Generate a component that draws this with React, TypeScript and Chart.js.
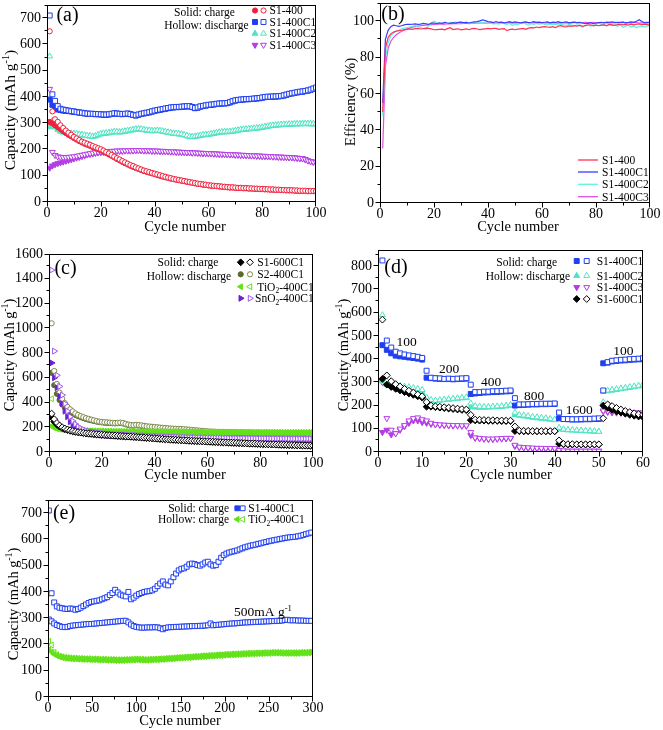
import React, { useEffect, useRef } from 'react';
import { Chart, registerables } from 'chart.js';
import { drawPoint } from 'chart.js/helpers';

Chart.register(...registerables);

const FONT = '"Liberation Serif","Times New Roman",serif';

// ---------------- Panel (a): capacity vs cycle (cycles 1..100) ----------------
const aS1_400_dis = [650, 345, 315, 305, 292, 282, 272, 264, 256, 248,
  242, 236, 230, 226, 222, 218, 213, 209, 205, 201,
  196, 190, 185, 179, 173, 167, 162, 156, 151, 146,
  141, 137, 132, 128, 124, 120, 117, 114, 111, 108,
  105, 102, 99, 96, 93, 91, 88, 86, 84, 82,
  80, 78, 76, 74, 72, 70, 69, 67, 66, 64,
  63, 62, 61, 60, 59, 58, 57, 56, 56, 55,
  54, 54, 53, 53, 52, 52, 51, 51, 50, 50,
  49, 49, 48, 48, 47, 47, 46, 46, 45, 45,
  45, 44, 44, 43, 43, 43, 42, 42, 42, 41];
const aS1_400_ch = [305, 300, 292, 285, 278, 270, 263, 256, 250, 244,
  238, 232, 227, 222, 218, 214, 209, 205, 201, 197,
  192, 187, 181, 176, 170, 164, 159, 153, 148, 143,
  138, 134, 130, 126, 122, 118, 115, 112, 109, 106,
  103, 100, 97, 94, 92, 89, 87, 85, 83, 81,
  79, 77, 75, 73, 71, 69, 68, 66, 65, 63,
  62, 61, 60, 59, 58, 57, 56, 55, 55, 54,
  53, 53, 52, 52, 51, 51, 50, 50, 49, 49,
  48, 48, 47, 47, 46, 46, 45, 45, 44, 44,
  44, 43, 43, 42, 42, 42, 41, 41, 41, 40];
const aC1_dis = [710, 410, 385, 365, 355, 352, 350, 348, 346, 345,
  343, 341, 340, 338, 337, 336, 336, 335, 335, 334,
  333, 333, 334, 336, 338, 337, 336, 335, 336, 337,
  335, 332, 330, 333, 336, 338, 340, 342, 345, 348,
  350, 352, 354, 356, 358, 360, 361, 362, 362, 363,
  364, 365, 365, 362, 358, 360, 364, 366, 368, 370,
  371, 372, 374, 375, 376, 376, 377, 380, 384, 387,
  389, 390, 391, 392, 392, 393, 394, 395, 396, 398,
  400, 401, 401, 402, 402, 403, 404, 406, 409, 412,
  414, 416, 418, 420, 421, 423, 425, 428, 432, 436];
const aC1_ch = [390, 370, 358, 352, 350, 348, 347, 346, 345, 343,
  342, 340, 339, 337, 336, 335, 335, 334, 334, 333,
  332, 332, 333, 335, 337, 336, 335, 334, 335, 336,
  334, 331, 329, 332, 335, 337, 339, 341, 344, 347,
  349, 351, 353, 355, 357, 359, 360, 361, 361, 362,
  363, 364, 364, 361, 357, 359, 363, 365, 367, 369,
  370, 371, 373, 374, 375, 375, 376, 379, 383, 386,
  388, 389, 390, 391, 391, 392, 393, 394, 395, 397,
  399, 400, 400, 401, 401, 402, 403, 405, 408, 411,
  413, 415, 417, 419, 420, 422, 424, 427, 431, 434];
const aC2_dis = [555, 310, 292, 280, 272, 268, 265, 263, 262, 261,
  260, 258, 257, 255, 253, 252, 250, 252, 256, 260,
  262, 263, 264, 266, 268, 268, 267, 268, 270, 272,
  274, 276, 278, 279, 278, 276, 274, 273, 272, 272,
  273, 272, 270, 268, 266, 264, 262, 261, 260, 259,
  256, 253, 250, 249, 250, 252, 254, 256, 257, 258,
  260, 262, 264, 266, 267, 268, 268, 269, 270, 272,
  274, 276, 277, 278, 279, 280, 281, 282, 283, 285,
  287, 289, 291, 292, 293, 294, 295, 296, 296, 297,
  297, 298, 298, 298, 299, 299, 299, 298, 298, 298];
const aC2_ch = [285, 300, 285, 275, 268, 265, 263, 261, 260, 259,
  258, 256, 255, 253, 251, 250, 248, 250, 254, 258,
  260, 261, 262, 264, 266, 266, 265, 266, 268, 270,
  272, 274, 276, 277, 276, 274, 272, 271, 270, 270,
  271, 270, 268, 266, 264, 262, 260, 259, 258, 257,
  254, 251, 248, 247, 248, 250, 252, 254, 255, 256,
  258, 260, 262, 264, 265, 266, 266, 267, 268, 270,
  272, 274, 275, 276, 277, 278, 279, 280, 281, 283,
  285, 287, 289, 290, 291, 292, 293, 294, 294, 295,
  295, 296, 296, 296, 297, 297, 297, 296, 296, 296];
const aC3_dis = [430, 190, 178, 173, 171, 170, 170, 171, 172, 173,
  175, 177, 179, 181, 183, 185, 187, 189, 190, 191,
  192, 193, 193, 194, 194, 195, 195, 195, 196, 196,
  196, 196, 197, 197, 197, 196, 196, 196, 195, 195,
  195, 194, 194, 193, 193, 192, 192, 191, 191, 190,
  190, 189, 189, 188, 188, 187, 187, 186, 186, 185,
  185, 184, 184, 183, 183, 182, 182, 181, 181, 180,
  180, 179, 179, 178, 178, 177, 177, 176, 176, 175,
  175, 174, 174, 173, 173, 172, 172, 171, 171, 170,
  170, 169, 168, 167, 166, 163, 158, 155, 153, 152];
const aC3_ch = [130, 138, 143, 147, 150, 153, 156, 159, 162, 165,
  168, 171, 174, 177, 180, 182, 184, 186, 188, 189,
  190, 191, 192, 193, 193, 194, 194, 194, 195, 195,
  195, 195, 196, 196, 196, 195, 195, 195, 194, 194,
  194, 193, 193, 192, 192, 191, 191, 190, 190, 189,
  189, 188, 188, 187, 187, 186, 186, 185, 185, 184,
  184, 183, 183, 182, 182, 181, 181, 180, 180, 179,
  179, 178, 178, 177, 177, 176, 176, 175, 175, 174,
  174, 173, 173, 172, 172, 171, 171, 170, 170, 169,
  169, 168, 167, 166, 165, 162, 157, 154, 152, 151];

// ---------------- Panel (b): coulombic efficiency (cycles 1..100) ----------------
const bS1_400 = [50, 85, 91, 93, 94, 94.5, 94.8, 95, 95.2, 95.5,
  95.8, 95.5, 95.9, 96, 95.7, 95.9, 96.2, 96, 95.8, 95.3,
  95.4, 95.5, 95.6, 95.2, 95.9, 96.4, 95.4, 95.6, 95.8, 95.2,
  95.5, 95.8, 95.3, 95.9, 96, 95.7, 95.4, 95.6, 95.8, 96,
  95.8, 96.1, 96, 95.5, 95.8, 95.9, 94.8, 95.4, 95.6, 95.3,
  95.6, 95.8, 96, 95.5, 96.2, 96.4, 96.3, 96.8, 96.5, 96.9,
  97, 96.8, 96.6, 97, 96.5, 97.2, 97.5, 97, 96.8, 97.4,
  97.2, 97.5, 97.3, 97.8, 97.2, 97.6, 97.9, 98, 97.4, 97.8,
  97.5, 97.8, 98, 97.6, 98.2, 98, 97.7, 98.1, 98.3, 98,
  98.2, 97.9, 98.4, 98, 98.3, 98.5, 98.1, 98.4, 98.2, 97.5];
const bC1 = [55, 90, 95, 97, 97.8, 97.5, 97.2, 97.5, 98, 98.3,
  98.2, 98.3, 98.5, 98.2, 98.4, 98.8, 98.5, 98.2, 98.9, 99,
  98.6, 99.1, 98.8, 99.3, 99, 98.8, 99.2, 98.9, 99.3, 99.5,
  99.2, 99.3, 99, 99.4, 99.6, 99.8, 100.2, 100.7, 100.3, 99.8,
  99.6, 99.2, 99.8, 99.3, 99.5, 99.1, 99.4, 99.7, 99.2, 99.6,
  99.4, 99.1, 99.3, 99.6, 99.2, 99.4, 99.7, 99.3, 99.5, 99.2,
  99.4, 99.6, 99.1, 99.5, 99.3, 99.7, 99.2, 99.4, 99.6, 99.1,
  99.3, 99.5, 99.2, 99.4, 99, 98.6, 98.8, 99.2, 98.6, 99,
  99.2, 99.4, 99.1, 99.5, 99.3, 99.6, 99.2, 99.4, 99.3, 99.5,
  99.1, 99.3, 99.6, 99.4, 100, 100.8, 99.8, 99.2, 99.4, 99.3];
const bC2 = [48, 80, 88, 92, 93.5, 94.5, 95, 95.8, 96.2, 96.5,
  96.8, 97.2, 97.5, 97, 96.5, 96, 95.5, 97.5, 99, 100,
  99.2, 98.6, 98.8, 99.2, 98.7, 99.3, 99, 99.6, 98.8, 99.2,
  98.9, 99.4, 98.7, 99.1, 99.5, 98.8, 99.2, 99, 99.4, 98.6,
  99, 98.5, 98.8, 98.4, 99, 98.6, 98.2, 98.8, 97.6, 98.4,
  98.2, 98.8, 99.6, 98.4, 97.8, 98.6, 98.3, 98.8, 98.4, 98.7,
  98.2, 97.9, 98.5, 98.1, 98.4, 97.8, 98.3, 98, 97.6, 98.2,
  97.8, 97.5, 98, 97.4, 96.8, 97.6, 97.9, 97.3, 97.8, 98,
  97.5, 98.2, 97.8, 97.4, 98.1, 97.6, 98, 97.2, 97.9, 96.5,
  97.2, 97.6, 96.8, 97.4, 96.5, 97, 97.3, 96.8, 97.4, 97.8];
const bC3 = [30, 75, 85, 89, 91, 92.5, 93.5, 94.5, 95.2, 95.8,
  96.3, 96.7, 97, 97.3, 97.5, 97.7, 97.8, 98, 98.1, 98.2,
  98.3, 98.4, 98.5, 98.4, 98.6, 98.5, 98.7, 98.6, 98.8, 98.7,
  98.8, 98.9, 98.7, 98.9, 99, 98.8, 99, 99.1, 98.9, 99,
  99.1, 98.9, 99, 99.2, 99, 98.9, 99.1, 99.2, 99, 99.1,
  99.2, 99, 99.1, 99.3, 99.1, 99, 99.2, 99.3, 99.1, 99.2,
  99, 99.1, 99.2, 99, 99.1, 98.9, 99.2, 99.1, 99, 99.2,
  99.1, 99.3, 99, 99.2, 99.1, 99.3, 99.2, 99, 99.3, 99.1,
  99.2, 99, 99.3, 99.1, 99.2, 99, 99.3, 99.1, 99.2, 99.3,
  99, 99.2, 99.1, 99.3, 99.2, 99, 99.1, 99.2, 99, 99.2];

// ---------------- Panel (c): other samples (cycles 1..100) ----------------
const cS1_600_dis = [310, 265, 235, 215, 200, 190, 182, 175, 170, 165,
  161, 158, 155, 152, 150, 148, 146, 144, 142, 140,
  139, 137, 136, 134, 133, 131, 130, 129, 127, 126,
  125, 123, 122, 120, 119, 117, 116, 114, 112, 110,
  109, 107, 106, 104, 103, 101, 100, 99, 97, 96,
  95, 94, 92, 91, 90, 89, 88, 87, 86, 85,
  84, 83, 82, 81, 80, 79, 78, 77, 76, 75,
  74, 73, 72, 71, 70, 69, 69, 68, 67, 66,
  65, 64, 63, 63, 62, 61, 60, 59, 59, 58,
  57, 57, 56, 55, 55, 54, 53, 53, 52, 51];
const cS1_600_ch = [280, 245, 220, 205, 193, 184, 177, 171, 166, 162,
  159, 156, 153, 150, 148, 146, 144, 142, 140, 138,
  137, 135, 134, 132, 131, 129, 128, 127, 125, 124,
  123, 121, 120, 118, 117, 115, 114, 112, 110, 108,
  107, 105, 104, 102, 101, 99, 98, 97, 95, 94,
  93, 92, 90, 89, 88, 87, 86, 85, 84, 83,
  82, 81, 80, 79, 78, 77, 76, 75, 74, 73,
  72, 71, 70, 69, 68, 67, 67, 66, 65, 64,
  63, 62, 61, 61, 60, 59, 58, 57, 57, 56,
  55, 55, 54, 53, 53, 52, 51, 51, 50, 49];
const cS2_dis = [1040, 655, 550, 480, 430, 395, 365, 345, 328, 312,
  300, 290, 282, 274, 268, 262, 256, 250, 246, 243,
  241, 240, 238, 236, 235, 236, 238, 235, 228, 222,
  218, 217, 220, 218, 215, 212, 208, 206, 204, 202,
  200, 198, 196, 194, 192, 190, 189, 188, 187, 186,
  185, 183, 181, 179, 177, 175, 173, 171, 169, 167,
  166, 165, 164, 163, 162, 162, 161, 160, 160, 159,
  159, 158, 158, 157, 157, 157, 156, 156, 156, 155,
  155, 155, 155, 154, 154, 154, 154, 153, 153, 153,
  153, 153, 152, 152, 152, 152, 152, 151, 151, 151];
const cS2_ch = [640, 540, 470, 420, 385, 360, 340, 325, 312, 300,
  290, 282, 274, 267, 261, 256, 251, 246, 242, 239,
  237, 236, 234, 232, 231, 232, 234, 231, 224, 218,
  214, 213, 216, 214, 211, 208, 204, 202, 200, 198,
  196, 194, 192, 190, 188, 186, 185, 184, 183, 182,
  181, 179, 177, 175, 173, 171, 169, 167, 165, 163,
  162, 161, 160, 159, 158, 158, 157, 156, 156, 155,
  155, 154, 154, 153, 153, 153, 152, 152, 152, 151,
  151, 151, 151, 150, 150, 150, 150, 149, 149, 149,
  149, 149, 148, 148, 148, 148, 148, 147, 147, 147];
const cTiO2_dis = [430, 215, 200, 193, 188, 184, 181, 179, 177, 176,
  175, 174, 173, 172, 171, 171, 170, 170, 169, 169,
  168, 168, 168, 167, 167, 167, 167, 166, 166, 166,
  166, 166, 165, 165, 165, 165, 165, 164, 164, 164,
  164, 164, 164, 163, 163, 163, 163, 163, 163, 162,
  162, 162, 162, 162, 162, 162, 161, 161, 161, 161,
  161, 161, 161, 161, 160, 160, 160, 160, 160, 160,
  160, 160, 160, 160, 160, 159, 159, 159, 159, 159,
  159, 159, 159, 159, 159, 159, 159, 158, 158, 158,
  158, 158, 158, 158, 158, 158, 158, 158, 158, 158];
const cTiO2_ch = [210, 195, 188, 184, 181, 179, 177, 175, 174, 173,
  172, 171, 170, 169, 168, 168, 167, 167, 166, 166,
  165, 165, 165, 164, 164, 164, 164, 163, 163, 163,
  163, 163, 162, 162, 162, 162, 162, 161, 161, 161,
  161, 161, 161, 160, 160, 160, 160, 160, 160, 159,
  159, 159, 159, 159, 159, 159, 158, 158, 158, 158,
  158, 158, 158, 158, 157, 157, 157, 157, 157, 157,
  157, 157, 157, 157, 157, 156, 156, 156, 156, 156,
  156, 156, 156, 156, 156, 156, 156, 155, 155, 155,
  155, 155, 155, 155, 155, 155, 155, 155, 155, 155];
const cSnO2_dis = [1470, 815, 620, 530, 460, 390, 330, 285, 250, 225,
  205, 192, 182, 174, 168, 163, 159, 156, 153, 150,
  148, 146, 145, 143, 142, 141, 140, 139, 138, 137,
  136, 135, 134, 133, 132, 131, 130, 129, 128, 127,
  126, 125, 125, 124, 123, 122, 122, 121, 120, 120,
  119, 118, 118, 117, 117, 116, 116, 115, 115, 114,
  114, 114, 113, 113, 113, 112, 112, 112, 111, 111,
  111, 111, 110, 110, 110, 110, 110, 109, 109, 109,
  109, 109, 109, 108, 108, 108, 108, 108, 108, 108,
  107, 107, 107, 107, 107, 107, 107, 107, 107, 107];
const cSnO2_ch = [720, 600, 520, 450, 390, 330, 285, 245, 215, 195,
  180, 170, 163, 157, 152, 148, 145, 142, 140, 138,
  136, 134, 133, 131, 130, 129, 128, 127, 126, 125,
  124, 123, 122, 121, 120, 119, 118, 117, 116, 115,
  114, 113, 113, 112, 111, 110, 110, 109, 108, 108,
  107, 106, 106, 105, 105, 104, 104, 103, 103, 102,
  102, 102, 101, 101, 101, 100, 100, 100, 99, 99,
  99, 99, 98, 98, 98, 98, 98, 97, 97, 97,
  97, 97, 97, 96, 96, 96, 96, 96, 96, 96,
  95, 95, 95, 95, 95, 95, 95, 95, 95, 95];

// ---------------- Panel (d): rate capability (cycles 1..60) ----------------
const dC1_dis = [825, 480, 450, 432, 425, 420, 416, 413, 410, 405,
  350, 320, 318, 317, 315, 316, 315, 316, 317, 318,
  290, 258, 258, 260, 260, 262, 262, 263, 264, 265,
  232, 205, 205, 206, 207, 207, 208, 208, 208, 209,
  170, 142, 142, 141, 141, 142, 143, 143, 144, 145,
  265, 387, 393, 395, 397, 398, 400, 401, 402, 404];
const dC1_ch = [460, 440, 425, 415, 412, 410, 407, 405, 402, 398,
  320, 318, 316, 315, 314, 314, 313, 314, 315, 316,
  250, 252, 254, 256, 257, 258, 259, 260, 261, 262,
  200, 202, 203, 204, 205, 205, 206, 206, 207, 207,
  145, 142, 141, 140, 140, 140, 141, 141, 142, 142,
  382, 385, 390, 392, 394, 395, 397, 398, 399, 400];
const dC2_dis = [590, 305, 295, 290, 285, 282, 280, 276, 272, 268,
  235, 225, 222, 224, 226, 228, 230, 232, 234, 236,
  210, 198, 196, 195, 195, 196, 197, 198, 200, 203,
  170, 160, 158, 155, 152, 150, 148, 146, 143, 140,
  105, 98, 96, 95, 94, 93, 92, 91, 90, 88,
  215, 265, 268, 271, 274, 277, 280, 283, 286, 290];
const dC2_ch = [305, 290, 285, 280, 275, 272, 268, 264, 260, 256,
  215, 218, 220, 222, 224, 226, 228, 230, 232, 233,
  195, 192, 191, 191, 192, 193, 194, 195, 197, 200,
  160, 157, 154, 151, 148, 146, 144, 142, 140, 138,
  100, 96, 94, 93, 92, 91, 90, 89, 88, 87,
  260, 262, 265, 268, 271, 274, 277, 280, 283, 286];
const dC3_dis = [300, 145, 95, 80, 100, 115, 135, 145, 148, 140,
  135, 125, 120, 118, 117, 116, 115, 115, 114, 114,
  85, 62, 60, 58, 57, 57, 58, 59, 60, 60,
  30, 22, 20, 19, 18, 17, 17, 16, 16, 16,
  8, 6, 5, 5, 5, 5, 5, 5, 5, 5,
  178, 176, 175, 174, 173, 172, 171, 170, 170, 170];
const dC3_ch = [85, 95, 75, 80, 95, 110, 125, 135, 135, 128,
  125, 120, 118, 116, 115, 114, 113, 113, 112, 112,
  72, 60, 58, 56, 55, 55, 56, 57, 58, 58,
  25, 20, 18, 17, 16, 15, 15, 14, 14, 14,
  5, 4, 4, 4, 4, 4, 4, 4, 4, 4,
  175, 172, 170, 169, 168, 167, 166, 165, 165, 165];
const dS1_600_dis = [570, 330, 305, 292, 282, 272, 264, 256, 248, 240,
  215, 200, 197, 195, 193, 191, 189, 187, 185, 183,
  160, 140, 139, 138, 137, 137, 136, 136, 135, 135,
  110, 92, 91, 91, 90, 90, 90, 90, 90, 90,
  50, 35, 34, 34, 33, 33, 33, 33, 33, 33,
  145, 205, 198, 190, 183, 177, 172, 167, 163, 160];
const dS1_600_ch = [315, 290, 280, 272, 265, 258, 252, 246, 240, 234,
  195, 195, 193, 191, 189, 187, 185, 183, 181, 180,
  137, 136, 135, 135, 134, 134, 134, 133, 133, 133,
  90, 90, 89, 89, 89, 89, 89, 89, 89, 89,
  35, 33, 32, 32, 32, 32, 32, 32, 32, 32,
  200, 190, 182, 175, 170, 165, 160, 156, 153, 150];
const dRates = ['100', '200', '400', '800', '1600', '100'];

// ---------------- Panel (e): long cycling at 500 mA g-1 ----------------
const eCycles = [1, 4, 7, 10, 13, 16, 19, 22, 25, 28, 31, 34, 37, 40, 43, 46, 49, 52, 55, 58,
  61, 64, 67, 70, 73, 76, 79, 82, 85, 88, 91, 94, 97, 100, 103, 106, 109, 112, 115, 118,
  121, 124, 127, 130, 133, 136, 139, 142, 145, 148, 151, 154, 157, 160, 163, 166, 169, 172, 175, 178,
  181, 184, 187, 190, 193, 196, 199, 202, 205, 208, 211, 214, 217, 220, 223, 226, 229, 232, 235, 238,
  241, 244, 247, 250, 253, 256, 259, 262, 265, 268, 271, 274, 277, 280, 283, 286, 289, 292, 295, 298];
const eC1_upper = [710, 395, 360, 345, 340, 338, 336, 335, 337, 336,
  332, 335, 340, 346, 352, 358, 362, 364, 366, 368,
  372, 376, 380, 388, 396, 408, 398, 390, 386, 383,
  400, 372, 378, 386, 392, 396, 400, 402, 403, 406,
  412, 422, 432, 440, 428, 425, 440, 456, 470, 482,
  488, 490, 496, 505, 508, 506, 502, 500, 505, 512,
  515, 505, 500, 502, 515, 530, 540, 546, 550, 553,
  555, 558, 562, 566, 570, 573, 576, 578, 580, 583,
  585, 588, 590, 593, 595, 597, 599, 601, 603, 605,
  607, 608, 609, 610, 612, 614, 617, 620, 623, 626];
const eC1_lower = [295, 288, 280, 274, 270, 267, 266, 267, 270, 272,
  273, 274, 275, 276, 277, 278, 278, 279, 280, 281,
  282, 283, 284, 285, 286, 287, 288, 289, 290, 290,
  284, 276, 270, 267, 265, 264, 264, 265, 265, 265,
  266, 265, 262, 258, 263, 265, 266, 266, 267, 267,
  268, 268, 269, 269, 270, 270, 270, 271, 271, 272,
  273, 280, 273, 274, 275, 276, 277, 278, 279, 280,
  280, 281, 282, 283, 284, 284, 285, 285, 286, 286,
  287, 287, 288, 288, 289, 289, 290, 290, 291, 293,
  294, 292, 292, 292, 291, 291, 291, 290, 290, 290];
const eTiO2_ch = [180, 172, 163, 157, 153, 150, 148, 147, 146, 145,
  145, 144, 144, 143, 143, 143, 142, 142, 142, 141,
  141, 141, 140, 140, 140, 139, 139, 139, 139, 140,
  140, 141, 141, 142, 141, 141, 140, 140, 141, 141,
  142, 142, 143, 143, 144, 145, 145, 146, 147, 148,
  148, 149, 150, 150, 151, 152, 152, 153, 154, 154,
  155, 156, 156, 157, 158, 158, 159, 160, 160, 161,
  161, 162, 162, 163, 163, 164, 164, 164, 165, 165,
  165, 166, 166, 166, 167, 167, 167, 167, 166, 166,
  166, 166, 166, 166, 166, 167, 167, 167, 168, 169];
const eTiO2_dis = [212, 198, 170, 161, 156, 153, 151, 150, 149, 148,
  148, 147, 147, 146, 146, 146, 145, 145, 145, 144,
  144, 144, 143, 143, 143, 142, 142, 142, 142, 143,
  143, 144, 144, 145, 144, 144, 143, 143, 144, 144,
  145, 145, 146, 146, 147, 148, 148, 149, 150, 151,
  151, 152, 153, 153, 154, 155, 155, 156, 157, 157,
  158, 159, 159, 160, 161, 161, 162, 163, 163, 164,
  164, 165, 165, 166, 166, 167, 167, 167, 168, 168,
  168, 169, 169, 169, 170, 170, 170, 170, 169, 169,
  169, 169, 169, 169, 169, 170, 170, 170, 171, 172];

// ---------------- axis ticks ----------------
const x100Ticks = [0, 20, 40, 60, 80, 100];
const aYTicks = [0, 100, 200, 300, 400, 500, 600, 700];
const bYTicks = [0, 20, 40, 60, 80, 100];
const cYTicks = [0, 200, 400, 600, 800, 1000, 1200, 1400, 1600];
const dXTicks = [0, 10, 20, 30, 40, 50, 60];
const dYTicks = [0, 100, 200, 300, 400, 500, 600, 700, 800];
const eXTicks = [0, 50, 100, 150, 200, 250, 300];
const eYTicks = [0, 100, 200, 300, 400, 500, 600, 700];

// ---------------- styles ----------------
const RED = '#f0203c';
const BLUE = '#1f3ff0';
const CYAN = '#4fe4c2';
const VIOLET = '#b43ce6';
const L_RED = '#ff3355';
const L_BLUE = '#3c3cff';
const L_CYAN = '#5ef2dc';
const L_PINK = '#e04ee6';
const BLACK = '#000000';
const OLIVE_S = '#5a6b2c';
const OLIVE_H = '#7f8c4a';
const LIME = '#63e21a';
const PURPLE_S = '#6a22d0';
const PURPLE_H = '#9d58ef';
const HOLLOW_FILL = '#ffffff';

type Mk = { style: string; rot: number; r: number };
const MK: Record<string, Mk> = {
  circle: { style: 'circle', rot: 0, r: 2.6 },
  square: { style: 'rect', rot: 0, r: 3.5 },
  up: { style: 'triangle', rot: 0, r: 3.4 },
  down: { style: 'triangle', rot: 180, r: 3.4 },
  left: { style: 'triangle', rot: -90, r: 3.4 },
  right: { style: 'triangle', rot: 90, r: 3.4 },
  diamond: { style: 'rectRot', rot: 0, r: 3.4 },
};

function pts(vals: number[], xs?: number[]) {
  return vals.map((v, i) => ({ x: xs ? xs[i] : i + 1, y: v }));
}
function markDs(label: string, vals: number[], color: string, m: Mk, hollow: boolean, xs?: number[]) {
  return {
    label,
    data: pts(vals, xs),
    showLine: false,
    pointStyle: m.style,
    rotation: m.rot,
    pointRadius: m.r,
    pointBorderWidth: 1,
    pointBackgroundColor: hollow ? HOLLOW_FILL : color,
    pointBorderColor: color,
    backgroundColor: color,
    borderColor: color,
  };
}
function lineDs(label: string, vals: number[], color: string) {
  return {
    label,
    data: pts(vals),
    showLine: true,
    borderColor: color,
    backgroundColor: color,
    borderWidth: 1.2,
    pointRadius: 0,
    tension: 0,
  };
}

// ---------------- rich text helpers ----------------
type Seg = { t: string; s: number };
function parseRich(str: string): Seg[] {
  const out: Seg[] = [];
  const re = /([_^])\{([^}]*)\}/g;
  let last = 0;
  let m: RegExpExecArray | null;
  while ((m = re.exec(str))) {
    if (m.index > last) out.push({ t: str.slice(last, m.index), s: 0 });
    out.push({ t: m[2], s: m[1] === '^' ? 1 : -1 });
    last = re.lastIndex;
  }
  if (last < str.length) out.push({ t: str.slice(last), s: 0 });
  return out;
}
function drawRich(ctx: CanvasRenderingContext2D, str: string, x: number, y: number, size: number, align: string) {
  const segs = parseRich(str);
  const small = size * 0.65;
  const widths = segs.map((sg) => {
    ctx.font = `${sg.s ? small : size}px ${FONT}`;
    return ctx.measureText(sg.t).width;
  });
  const total = widths.reduce((a, b) => a + b, 0);
  let cx = align === 'center' ? x - total / 2 : align === 'right' ? x - total : x;
  ctx.textAlign = 'left';
  ctx.textBaseline = 'alphabetic';
  segs.forEach((sg, i) => {
    ctx.font = `${sg.s ? small : size}px ${FONT}`;
    const dy = sg.s === 1 ? -size * 0.4 : sg.s === -1 ? size * 0.22 : 0;
    ctx.fillText(sg.t, cx, y + size * 0.34 + dy);
    cx += widths[i];
  });
}

type Note = { t: string; x: number; y: number; size: number; align?: string; rot?: boolean; color?: string };
type LegMark = { x: number; y: number; m: Mk; color: string; hollow: boolean };
type LegLine = { x1: number; x2: number; y: number; color: string };
type AxisCfg = { min: number; max: number; ticks: number[]; minor: number };
type PanelCfg = {
  id: string;
  box: { left: number; top: number; width: number; height: number };
  area: { l: number; t: number; r: number; b: number };
  x: AxisCfg;
  y: AxisCfg;
  datasets: any[];
  notes: Note[];
  marks: LegMark[];
  lines: LegLine[];
};

function axisOpts(ax: AxisCfg, isX: boolean, size: number) {
  return {
    type: 'linear',
    min: ax.min,
    max: ax.max,
    afterBuildTicks: (s: any) => {
      s.ticks = ax.ticks.map((v) => ({ value: v }));
    },
    afterFit: (s: any) => {
      if (isX) s.height = size;
      else s.width = size;
      s.paddingLeft = 0;
      s.paddingRight = 0;
      s.paddingTop = 0;
      s.paddingBottom = 0;
    },
    grid: { display: false, drawTicks: false },
    border: { display: false },
    ticks: {
      autoSkip: false,
      maxRotation: 0,
      minRotation: 0,
      padding: isX ? 3 : 6,
      color: '#000',
      font: { family: FONT, size: 14 },
      callback: (v: any) => String(v),
    },
    title: { display: false },
  };
}

function makeChart(canvas: HTMLCanvasElement, cfg: PanelCfg) {
  const { box, area } = cfg;
  const ox = box.left;
  const oy = box.top;
  const decor = {
    id: 'decor_' + cfg.id,
    afterDraw(chart: any) {
      const ctx: CanvasRenderingContext2D = chart.ctx;
      const ca = chart.chartArea;
      const xs = chart.scales.x;
      const ys = chart.scales.y;
      ctx.save();
      ctx.strokeStyle = '#000';
      ctx.lineWidth = 1;
      const L = Math.round(ca.left) + 0.5;
      const R = Math.round(ca.right) - 0.5;
      const T = Math.round(ca.top) + 0.5;
      const B = Math.round(ca.bottom) - 0.5;
      ctx.strokeRect(L, T, R - L, B - T);
      for (let i = 0; ; i++) {
        const v = cfg.x.min + i * cfg.x.minor;
        if (v > cfg.x.max + 1e-6) break;
        const p = Math.min(Math.round(xs.getPixelForValue(v)) + 0.5, R);
        const major = cfg.x.ticks.includes(v);
        ctx.beginPath();
        ctx.moveTo(p, B);
        ctx.lineTo(p, B + (major ? 5 : 3));
        ctx.stroke();
      }
      for (let i = 0; ; i++) {
        const v = cfg.y.min + i * cfg.y.minor;
        if (v > cfg.y.max + 1e-6) break;
        const p = Math.max(Math.round(ys.getPixelForValue(v)) - 0.5, T);
        const major = cfg.y.ticks.includes(v);
        ctx.beginPath();
        ctx.moveTo(L, p);
        ctx.lineTo(L - (major ? 5 : 3), p);
        ctx.stroke();
      }
      // legend lines
      for (const ln of cfg.lines) {
        ctx.strokeStyle = ln.color;
        ctx.lineWidth = 1.3;
        ctx.beginPath();
        ctx.moveTo(ln.x1 - ox, ln.y - oy);
        ctx.lineTo(ln.x2 - ox, ln.y - oy);
        ctx.stroke();
      }
      // legend markers
      for (const mk of cfg.marks) {
        ctx.fillStyle = mk.hollow ? HOLLOW_FILL : mk.color;
        ctx.strokeStyle = mk.color;
        ctx.lineWidth = 1;
        drawPoint(ctx, { pointStyle: mk.m.style as any, rotation: mk.m.rot, radius: mk.m.r, borderWidth: 1 } as any, mk.x - ox, mk.y - oy);
      }
      // texts
      for (const n of cfg.notes) {
        ctx.fillStyle = n.color || '#000';
        if (n.rot) {
          ctx.save();
          ctx.translate(n.x - ox, n.y - oy);
          ctx.rotate(-Math.PI / 2);
          drawRich(ctx, n.t, 0, 0, n.size, n.align || 'center');
          ctx.restore();
        } else {
          drawRich(ctx, n.t, n.x - ox, n.y - oy, n.size, n.align || 'left');
        }
      }
      ctx.restore();
    },
  };
  return new Chart(canvas, {
    type: 'scatter',
    data: { datasets: cfg.datasets },
    options: {
      animation: false,
      responsive: false,
      maintainAspectRatio: false,
      devicePixelRatio: 1,
      events: [],
      layout: {
        padding: { left: 0, top: area.t - box.top, right: box.left + box.width - area.r, bottom: 0 },
      },
      plugins: { legend: { display: false }, tooltip: { enabled: false } },
      scales: {
        x: axisOpts(cfg.x, true, box.top + box.height - area.b) as any,
        y: axisOpts(cfg.y, false, area.l - box.left) as any,
      },
    } as any,
    plugins: [decor],
  });
}

// ---------------- legends ----------------
function legendRows(rows: number[], xs: number, xh: number, xt: number, items: { t: string; m: Mk; s: string; h: string; tx?: number }[], size: number) {
  const marks: LegMark[] = [];
  const notes: Note[] = [];
  items.forEach((it, i) => {
    marks.push({ x: xs, y: rows[i], m: it.m, color: it.s, hollow: false });
    marks.push({ x: xh, y: rows[i], m: it.m, color: it.h, hollow: true });
    notes.push({ t: it.t, x: it.tx ?? xt, y: rows[i], size, align: 'left' });
  });
  return { marks, notes };
}

const CAP = 'Capacity (mAh g^{-1})';
const LEG = 11.5;

function panelA(): PanelCfg {
  const lg = legendRows([10.5, 22, 33.5, 45], 255, 263.5, 269.5, [
    { t: 'S1-400', m: MK.circle, s: RED, h: RED },
    { t: 'S1-400C1', m: MK.square, s: BLUE, h: BLUE },
    { t: 'S1-400C2', m: MK.up, s: CYAN, h: CYAN },
    { t: 'S1-400C3', m: MK.down, s: VIOLET, h: VIOLET },
  ], LEG);
  return {
    id: 'a',
    box: { left: 0, top: 0, width: 331, height: 240 },
    area: { l: 47, t: 2, r: 316, b: 202 },
    x: { min: 0, max: 100, ticks: x100Ticks, minor: 10 },
    y: { min: 0, max: 750, ticks: aYTicks, minor: 50 },
    datasets: [
      markDs('S1-400 dis', aS1_400_dis, RED, MK.circle, true),
      markDs('S1-400 ch', aS1_400_ch, RED, MK.circle, false),
      markDs('S1-400C1 dis', aC1_dis, BLUE, MK.square, true),
      markDs('S1-400C1 ch', aC1_ch, BLUE, MK.square, false),
      markDs('S1-400C2 dis', aC2_dis, CYAN, MK.up, true),
      markDs('S1-400C2 ch', aC2_ch, CYAN, MK.up, false),
      markDs('S1-400C3 dis', aC3_dis, VIOLET, MK.down, true),
      markDs('S1-400C3 ch', aC3_ch, VIOLET, MK.down, false),
    ],
    notes: [
      { t: '(a)', x: 67.5, y: 14, size: 20, align: 'center' },
      { t: 'Solid: charge', x: 204.5, y: 12, size: LEG, align: 'center' },
      { t: 'Hollow: discharge', x: 206.5, y: 25.5, size: LEG, align: 'center' },
      { t: CAP, x: 10, y: 110, size: 15.5, rot: true },
      { t: 'Cycle number', x: 185, y: 226, size: 14.5, align: 'center' },
      ...lg.notes,
    ],
    marks: lg.marks,
    lines: [],
  };
}

function panelB(): PanelCfg {
  const rows = [160, 172, 184.3, 196.7];
  const names = ['S1-400', 'S1-400C1', 'S1-400C2', 'S1-400C3'];
  const cols = [L_RED, L_BLUE, L_CYAN, L_PINK];
  return {
    id: 'b',
    box: { left: 331, top: 0, width: 332, height: 240 },
    area: { l: 380, t: 3, r: 650, b: 203 },
    x: { min: 0, max: 100, ticks: x100Ticks, minor: 10 },
    y: { min: 0, max: 110, ticks: bYTicks, minor: 10 },
    datasets: [
      lineDs('S1-400', bS1_400, L_RED),
      lineDs('S1-400C1', bC1, L_BLUE),
      lineDs('S1-400C2', bC2, L_CYAN),
      lineDs('S1-400C3', bC3, L_PINK),
    ],
    notes: [
      { t: '(b)', x: 393, y: 13, size: 20, align: 'center' },
      { t: 'Efficiency (%)', x: 350, y: 102, size: 15, rot: true },
      { t: 'Cycle number', x: 518, y: 226, size: 14.5, align: 'center' },
      ...names.map((n, i) => ({ t: n, x: 602, y: rows[i], size: LEG, align: 'left' })),
    ],
    marks: [],
    lines: cols.map((c, i) => ({ x1: 578, x2: 598, y: rows[i], color: c })),
  };
}

function panelC(): PanelCfg {
  const lg = legendRows([262.3, 274.3, 286.7, 298.3], 240.7, 250, 257.3, [
    { t: 'S1-600C1', m: MK.diamond, s: BLACK, h: BLACK },
    { t: 'S2-400C1', m: MK.circle, s: OLIVE_S, h: OLIVE_H },
    { t: 'TiO_{2}-400C1', m: MK.left, s: LIME, h: LIME },
    { t: 'SnO_{2}-400C1', m: MK.right, s: PURPLE_S, h: PURPLE_H, tx: 255 },
  ], LEG);
  return {
    id: 'c',
    box: { left: 0, top: 240, width: 331, height: 245 },
    area: { l: 49, t: 254, r: 313, b: 452 },
    x: { min: 0, max: 100, ticks: x100Ticks, minor: 10 },
    y: { min: 0, max: 1600, ticks: cYTicks, minor: 100 },
    datasets: [
      markDs('S1-600C1 dis', cS1_600_dis, BLACK, MK.diamond, true),
      markDs('S1-600C1 ch', cS1_600_ch, BLACK, MK.diamond, false),
      markDs('SnO2 dis', cSnO2_dis, PURPLE_H, MK.right, true),
      markDs('SnO2 ch', cSnO2_ch, PURPLE_S, MK.right, false),
      markDs('TiO2 ch', cTiO2_ch, LIME, MK.left, false),
      markDs('TiO2 dis', cTiO2_dis, LIME, MK.left, true),
      markDs('S2 dis', cS2_dis, OLIVE_H, MK.circle, true),
      markDs('S2 ch', cS2_ch, OLIVE_S, MK.circle, false),
    ],
    notes: [
      { t: '(c)', x: 65.5, y: 267, size: 20, align: 'center' },
      { t: 'Solid: charge', x: 188, y: 262, size: LEG, align: 'center' },
      { t: 'Hollow: discharge', x: 189, y: 276, size: LEG, align: 'center' },
      { t: CAP, x: 9, y: 355, size: 14.5, rot: true },
      { t: 'Cycle number', x: 185, y: 474, size: 14.5, align: 'center' },
      ...lg.notes,
    ],
    marks: lg.marks,
    lines: [],
  };
}

function panelD(): PanelCfg {
  const lg = legendRows([261, 275.7, 287.3, 299], 576.7, 586.7, 596.7, [
    { t: 'S1-400C1', m: MK.square, s: BLUE, h: BLUE },
    { t: 'S1-400C2', m: MK.up, s: CYAN, h: CYAN },
    { t: 'S1-400C3', m: MK.down, s: VIOLET, h: VIOLET },
    { t: 'S1-600C1', m: MK.diamond, s: BLACK, h: BLACK },
  ], LEG);
  const rateXY = [[406.7, 341.7], [449, 368.3], [491, 381.7], [534, 395], [579.3, 409.3], [623.3, 350]];
  return {
    id: 'd',
    box: { left: 331, top: 240, width: 332, height: 245 },
    area: { l: 378, t: 250, r: 643, b: 452 },
    x: { min: 0, max: 60, ticks: dXTicks, minor: 5 },
    y: { min: 0, max: 870, ticks: dYTicks, minor: 50 },
    datasets: [
      markDs('S1-600C1 dis', dS1_600_dis, BLACK, MK.diamond, true),
      markDs('S1-600C1 ch', dS1_600_ch, BLACK, MK.diamond, false),
      markDs('S1-400C1 dis', dC1_dis, BLUE, MK.square, true),
      markDs('S1-400C1 ch', dC1_ch, BLUE, MK.square, false),
      markDs('S1-400C2 dis', dC2_dis, CYAN, MK.up, true),
      markDs('S1-400C2 ch', dC2_ch, CYAN, MK.up, false),
      markDs('S1-400C3 dis', dC3_dis, VIOLET, MK.down, true),
      markDs('S1-400C3 ch', dC3_ch, VIOLET, MK.down, false),
    ],
    notes: [
      { t: '(d)', x: 396, y: 266, size: 20, align: 'center' },
      { t: 'Solid: charge', x: 526.7, y: 262.3, size: LEG, align: 'center' },
      { t: 'Hollow: discharge', x: 528, y: 276, size: LEG, align: 'center' },
      { t: CAP, x: 343, y: 355, size: 14.5, rot: true },
      { t: 'Cycle number', x: 511, y: 474, size: 14.5, align: 'center' },
      ...dRates.map((r, i) => ({ t: r, x: rateXY[i][0], y: rateXY[i][1], size: 13.5, align: 'center' })),
      ...lg.notes,
    ],
    marks: lg.marks,
    lines: [],
  };
}

function panelE(): PanelCfg {
  return {
    id: 'e',
    box: { left: 0, top: 485, width: 331, height: 245 },
    area: { l: 48, t: 500, r: 313, b: 697 },
    x: { min: 0, max: 300, ticks: eXTicks, minor: 25 },
    y: { min: 0, max: 750, ticks: eYTicks, minor: 50 },
    datasets: [
      markDs('S1-400C1 upper', eC1_upper, BLUE, MK.square, true, eCycles),
      markDs('S1-400C1 lower', eC1_lower, BLUE, MK.square, true, eCycles),
      markDs('TiO2 ch', eTiO2_ch, LIME, MK.left, false, eCycles),
      markDs('TiO2 dis', eTiO2_dis, LIME, MK.left, true, eCycles),
    ],
    notes: [
      { t: '(e)', x: 64, y: 512, size: 20, align: 'center' },
      { t: 'Solid: charge', x: 229, y: 508.3, size: LEG, align: 'right' },
      { t: 'Hollow: charge', x: 229, y: 519.3, size: LEG, align: 'right' },
      { t: 'S1-400C1', x: 248.3, y: 508.3, size: LEG, align: 'left' },
      { t: 'TiO_{2}-400C1', x: 248.3, y: 519.3, size: LEG, align: 'left' },
      { t: '500mA g^{-1}', x: 263, y: 611.7, size: 13.5, align: 'center' },
      { t: CAP, x: 13, y: 604, size: 14.5, rot: true },
      { t: 'Cycle number', x: 180, y: 720, size: 14.5, align: 'center' },
    ],
    marks: [
      { x: 237.3, y: 508.3, m: { style: 'rect', rot: 0, r: 3.4 }, color: BLUE, hollow: false },
      { x: 242.7, y: 508.3, m: { style: 'rect', rot: 0, r: 3.4 }, color: BLUE, hollow: true },
      { x: 237.3, y: 519.3, m: { style: 'triangle', rot: -90, r: 3.4 }, color: LIME, hollow: false },
      { x: 242.7, y: 519.3, m: { style: 'triangle', rot: -90, r: 3.4 }, color: LIME, hollow: true },
    ],
    lines: [],
  };
}

function Panel({ cfg }: { cfg: PanelCfg }) {
  const ref = useRef<HTMLCanvasElement>(null);
  useEffect(() => {
    const chart = makeChart(ref.current as HTMLCanvasElement, cfg);
    return () => chart.destroy();
  }, []);
  const { left, top, width, height } = cfg.box;
  return (
    <canvas
      ref={ref}
      width={width}
      height={height}
      style={{ position: 'absolute', left, top, width, height }}
    />
  );
}

export default function App() {
  const panels = [panelA(), panelB(), panelC(), panelD(), panelE()];
  return (
    <div style={{ position: 'absolute', left: 0, top: 0, width: 663, height: 730, background: '#fff', overflow: 'hidden' }}>
      {panels.map((p) => (
        <Panel key={p.id} cfg={p} />
      ))}
    </div>
  );
}
